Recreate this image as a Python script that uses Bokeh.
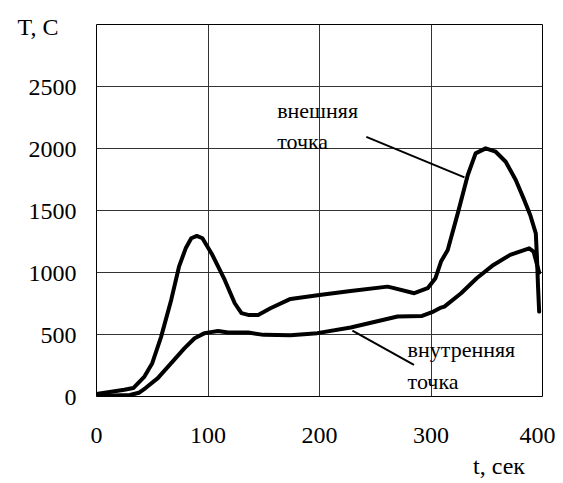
from bokeh.plotting import figure
from bokeh.models import Range1d, FixedTicker, Label, LinearAxis
from bokeh.embed import file_html
from bokeh.resources import INLINE

# ---- data ----
outer_t = [0, 25, 33, 43, 50, 58, 67, 74, 80, 85, 90, 95, 104, 115, 124, 130, 136, 145,
           156, 174, 200, 228, 261, 265, 285, 297, 304, 309, 315, 324, 333, 340, 349, 358,
           367, 376, 383, 389, 394, 395, 396, 397]
outer_T = [20, 54, 68, 161, 269, 483, 779, 1047, 1195, 1276, 1295, 1276, 1141, 940, 752, 672,
           658, 658, 712, 787, 819, 851, 886, 878, 833, 873, 954, 1088, 1182, 1477, 1786, 1961,
           2001, 1974, 1893, 1746, 1598, 1464, 1316, 1128, 886, 685]

inner_t = [0, 30, 38, 44, 55, 67, 79, 88, 97, 109, 118, 136, 150, 174, 198, 228, 270, 292,
           301, 309, 312, 327, 341, 356, 371, 388, 392, 397]
inner_T = [5, 12, 30, 68, 148, 269, 390, 470, 511, 529, 516, 516, 497, 494, 511, 556, 645, 650,
           680, 717, 725, 833, 954, 1061, 1142, 1195, 1168, 1000]

x_ticks = [0, 100, 200, 300, 400]
y_ticks = [0, 500, 1000, 1500, 2000, 2500]

# annotation texts and leader lines (data coordinates)
outer_label = ["внешняя", "точка"]
outer_label_x = [162, 162]
outer_label_y = [2310, 2054]
inner_label = ["внутренняя", "точка"]
inner_label_x = [279, 279]
inner_label_y = [380, 121]
leader_x0 = [242, 229.5]
leader_y0 = [2094, 532]
leader_x1 = [330, 284.7]
leader_y1 = [1767, 255]

y_title = "T, C"
y_title_at = 2980
x_title = "t, сек"
x_title_at = 361

FONT = "Liberation Serif, Times New Roman, serif"

p = figure(width=555, height=483, output_backend="svg", toolbar_location=None,
           x_range=Range1d(0, 400), y_range=Range1d(0, 3000),
           min_border_left=96, min_border_right=13, min_border_top=24, min_border_bottom=87)
p.background_fill_color = "white"
p.border_fill_color = "white"
p.outline_line_color = "black"
p.outline_line_width = 1


def style_axis(ax, size="24px"):
    ax.major_tick_in = 0
    ax.major_tick_out = 0
    ax.minor_tick_in = 0
    ax.minor_tick_out = 0
    ax.axis_line_color = None
    ax.major_label_text_font = FONT
    ax.major_label_text_font_size = size
    ax.major_label_text_color = "black"


style_axis(p.xaxis[0])
style_axis(p.yaxis[0])

p.xaxis[0].ticker = FixedTicker(ticks=x_ticks)
p.yaxis[0].ticker = FixedTicker(ticks=y_ticks + [y_title_at])
p.yaxis[0].major_label_overrides = {y_title_at: y_title + "\u00a0\u00a0\u00a0"}
p.xaxis[0].major_label_standoff = 31
p.yaxis[0].major_label_standoff = 20

# second axis below carrying the x title
xt_axis = LinearAxis(ticker=FixedTicker(ticks=[x_title_at]),
                     major_label_overrides={x_title_at: x_title})
style_axis(xt_axis)
xt_axis.major_label_standoff = 7
p.add_layout(xt_axis, "below")

p.xgrid[0].ticker = FixedTicker(ticks=x_ticks[1:-1])
p.ygrid[0].ticker = FixedTicker(ticks=y_ticks[1:])
for g in (p.xgrid[0], p.ygrid[0]):
    g.grid_line_color = "#333333"
    g.grid_line_width = 1
    g.grid_line_alpha = 1

p.line(outer_t, outer_T, line_color="black", line_width=4, line_join="round", line_cap="round")
p.line(inner_t, inner_T, line_color="black", line_width=4, line_join="round", line_cap="round")
p.segment(leader_x0, leader_y0, leader_x1, leader_y1, line_color="black", line_width=2)

for txt, x, y in zip(outer_label + inner_label, outer_label_x + inner_label_x,
                     outer_label_y + inner_label_y):
    p.add_layout(Label(x=x, y=y, text=txt, text_font=FONT, text_font_size="22px",
                       text_color="black", text_baseline="alphabetic"))

open("out.html", "w").write(file_html(p, INLINE))
